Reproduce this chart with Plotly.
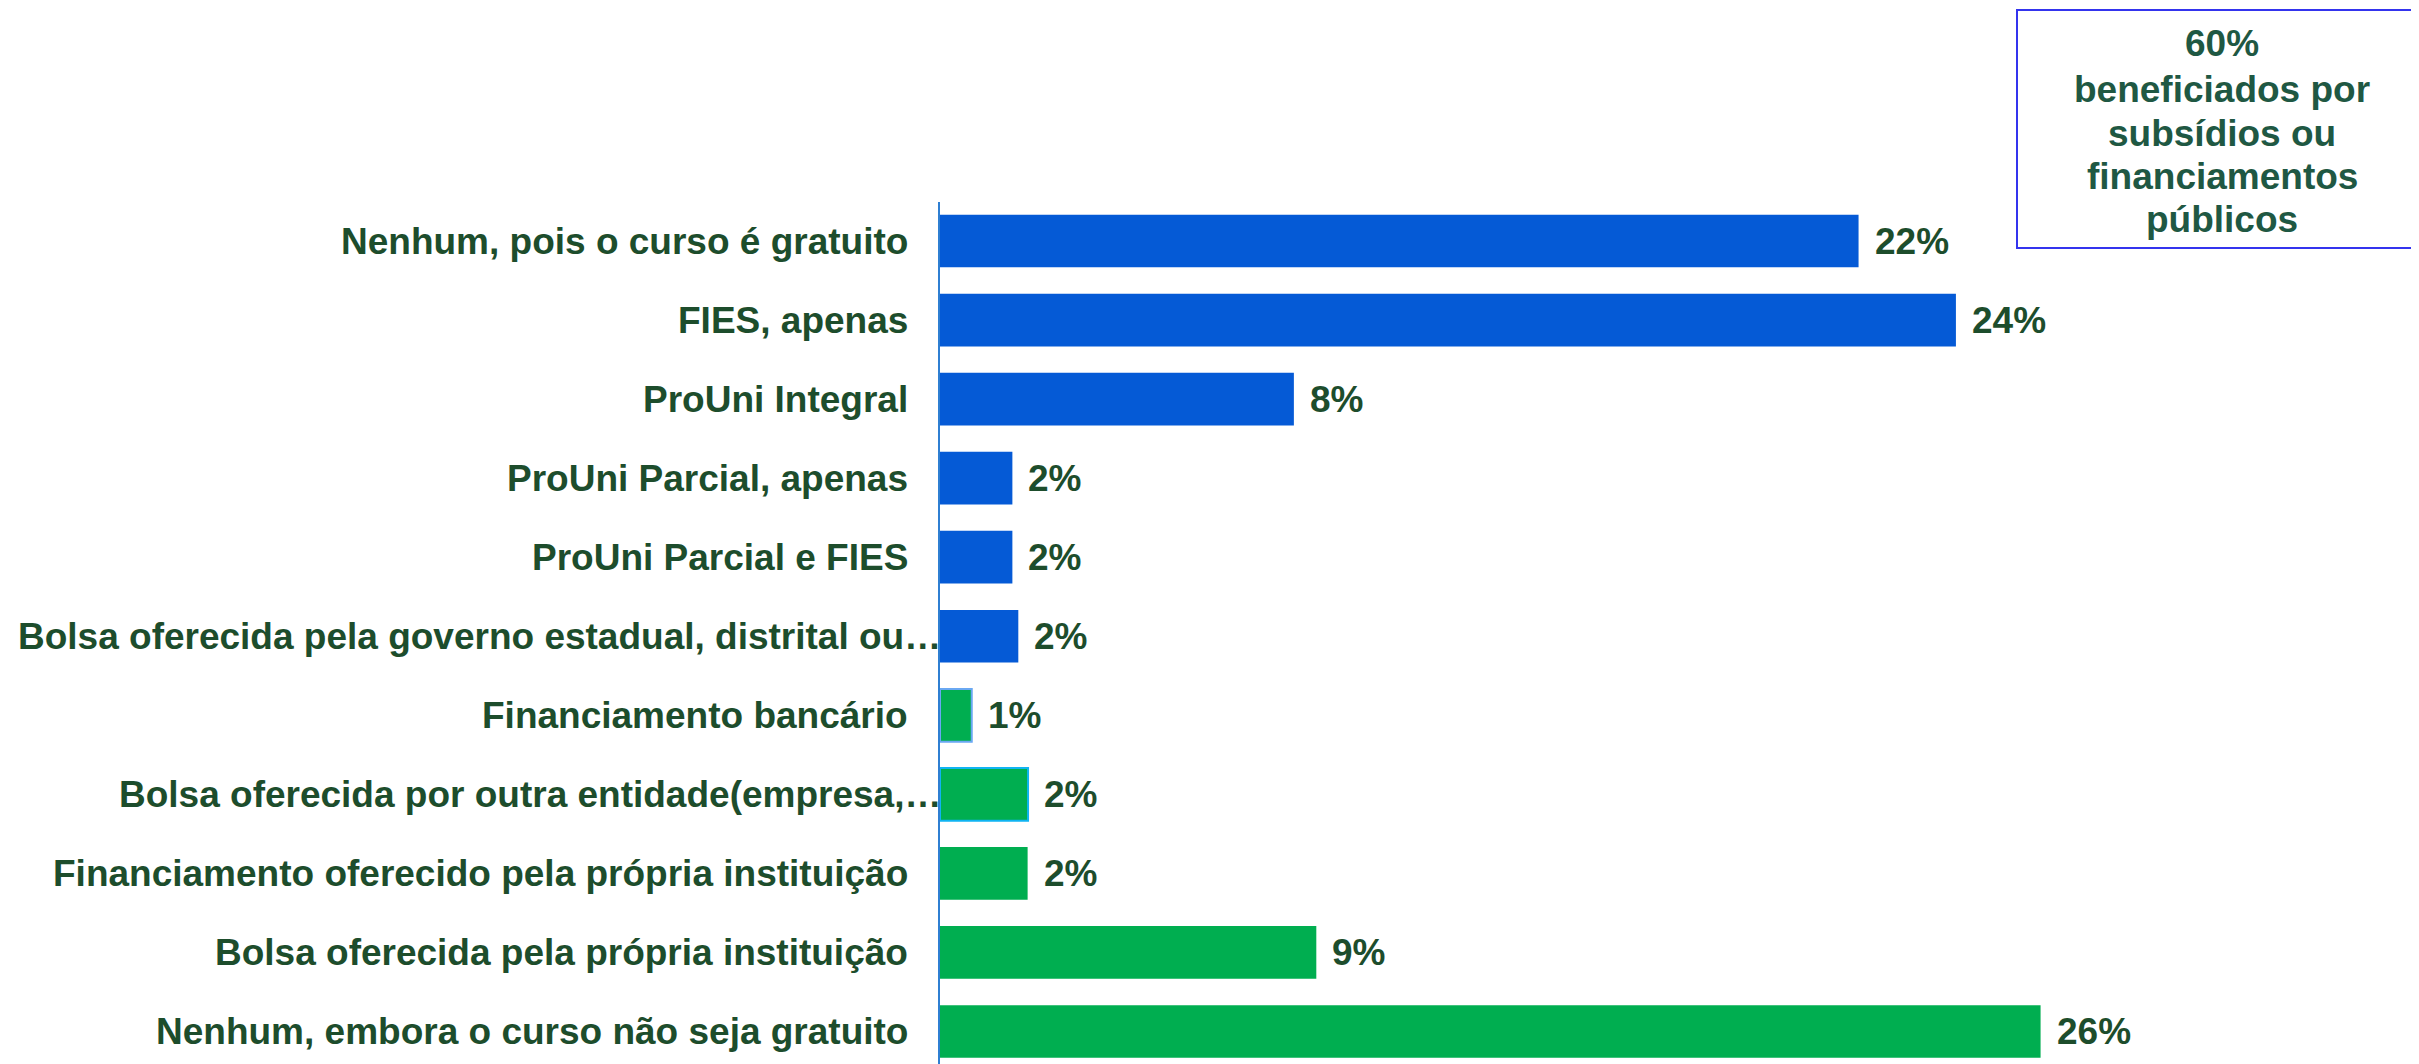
import plotly.graph_objects as go

# ---------------- data ----------------
categories = [
    "Nenhum, pois o curso é gratuito",
    "FIES, apenas",
    "ProUni Integral",
    "ProUni Parcial, apenas",
    "ProUni Parcial e FIES",
    "Bolsa oferecida pela governo estadual, distrital ou…",
    "Financiamento bancário",
    "Bolsa oferecida por outra entidade(empresa,…",
    "Financiamento oferecido pela própria instituição",
    "Bolsa oferecida pela própria instituição",
    "Nenhum, embora o curso não seja gratuito",
]
values = [21.7, 24.0, 8.36, 1.71, 1.71, 1.85, 0.75, 2.08, 2.07, 8.89, 26.0]
value_labels = ["22%", "24%", "8%", "2%", "2%", "2%", "1%", "2%", "2%", "9%", "26%"]
groups = ["public"] * 6 + ["other"] * 5
box_lines = ["60%", "beneficiados por", "subsídios ou", "financiamentos", "públicos"]

# ---------------- style ----------------
PAGE_OFF = 8                      # default page body margin
PAGE_W, PAGE_H = 2419, 1064
W, H = PAGE_W - PAGE_OFF, PAGE_H - PAGE_OFF


def fx(px):  # page pixel -> figure pixel
    return px - PAGE_OFF


ML, MT, MB, MR = fx(940), fx(202), 0, 0
PX_PER_UNIT = 42.33
CAT_STEP = 79.05
FIRST_CAT_CENTER = fx(241)
FONT = "Liberation Sans, Arial, sans-serif"
FSIZE = 37
LABEL_COLOR = "#1d4d2c"
BOX_TEXT_COLOR = "#1f5843"
group_colors = {"public": "#055ad6", "other": "#00ae50"}
outline = {6: ("#6aa8f2", 2), 7: ("#10b4f2", 2)}

plot_w = W - ML - MR
plot_h = H - MT - MB
x_max = plot_w / PX_PER_UNIT
y_top = -(FIRST_CAT_CENTER - MT) / CAT_STEP
y_bottom = y_top + plot_h / CAT_STEP

colors = [group_colors[g] for g in groups]
line_colors = [outline.get(i, (colors[i], 0))[0] for i in range(len(values))]
line_widths = [outline.get(i, (None, 0))[1] for i in range(len(values))]

fig = go.Figure(
    go.Bar(
        y=categories,
        x=values,
        orientation="h",
        marker=dict(color=colors, line=dict(color=line_colors, width=line_widths)),
        hoverinfo="skip",
    )
)

annotations = []
for cat, v, lab in zip(categories, values, value_labels):
    annotations.append(dict(
        x=v, y=cat, xref="x", yref="y", text=f"<b>{lab}</b>", showarrow=False,
        xanchor="left", yanchor="middle", xshift=14,
        font=dict(family=FONT, size=FSIZE, color=LABEL_COLOR),
    ))
for cat in categories:
    truncated = cat.endswith("…")
    annotations.append(dict(
        x=0, y=cat, xref="x", yref="y", text=f"<b>{cat}</b>", showarrow=False,
        xanchor="right", yanchor="middle", xshift=3 if truncated else -30,
        font=dict(family=FONT, size=FSIZE, color=LABEL_COLOR),
    ))


def px_to_paper_x(px):
    return (fx(px) - ML) / plot_w


def px_to_paper_y(py):
    return (H - MB - fx(py)) / plot_h


line_centers = [43, 89, 133, 177, 220]
for txt, cy in zip(box_lines, line_centers):
    annotations.append(dict(
        x=px_to_paper_x(2222), y=px_to_paper_y(cy), xref="paper", yref="paper",
        text=f"<b>{txt}</b>", showarrow=False, xanchor="center", yanchor="middle",
        font=dict(family=FONT, size=FSIZE, color=BOX_TEXT_COLOR),
    ))

fig.update_layout(
    width=W, height=H,
    margin=dict(l=ML, r=MR, t=MT, b=MB, pad=0),
    paper_bgcolor="white", plot_bgcolor="white",
    bargap=0.333,
    showlegend=False,
    xaxis=dict(range=[0, x_max], showgrid=False, zeroline=False, showline=False,
               showticklabels=False, ticks=""),
    yaxis=dict(type="category", categoryorder="array", categoryarray=categories,
               range=[y_bottom, y_top], showgrid=False, zeroline=False,
               showline=True, linecolor="#2f7fd2", linewidth=2,
               showticklabels=False, ticks=""),
    annotations=annotations,
    shapes=[dict(type="rect", xref="paper", yref="paper",
                 x0=px_to_paper_x(2017), x1=px_to_paper_x(2432),
                 y0=px_to_paper_y(248), y1=px_to_paper_y(10),
                 line=dict(color="#3434ee", width=2), fillcolor="rgba(0,0,0,0)")],
)

fig.write_html("out.html")
